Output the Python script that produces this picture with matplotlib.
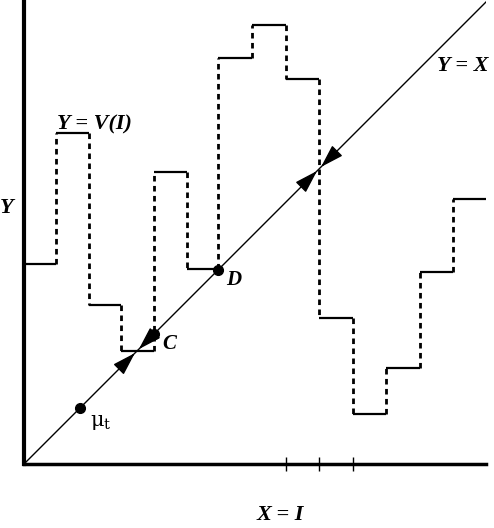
import numpy as np
import matplotlib
matplotlib.use('Agg')
import matplotlib.pyplot as plt

# step function Y = V(I): breakpoints and level of each step
edges = [0, 0.97, 1.97, 2.94, 3.94, 4.94, 5.88, 6.91, 7.94, 8.94, 9.97, 10.97, 12.0, 13.0, 14.0]
levels = [6.06, 10.03, 4.82, 3.42, 8.85, 5.91, 12.3, 13.3, 11.67, 4.42, 1.52, 2.91, 5.82, 8.03]

# marked points on Y = X
pt_names = ['$\\mathregular{\\mu_t}$', 'C', 'D']
pt_x = [1.7, 3.94, 5.88]

# x-axis ticks (no labels)
ticks = [7.94, 8.94, 9.97]

edges = np.array(edges)
levels = np.array(levels)

fig = plt.figure(figsize=(4.94, 5.28), dpi=100)
ax = fig.add_axes([24 / 494, 64 / 528, 462 / 494, 464 / 528])
ax.set_xlim(0, 14)
ax.set_ylim(0, 14.06)

for s in ['top', 'right']:
    ax.spines[s].set_visible(False)
ax.spines['left'].set_linewidth(3)
ax.spines['bottom'].set_linewidth(2.5)

ax.set_xticks(ticks)
ax.set_xticklabels([])
ax.set_yticks([])
ax.tick_params(axis='x', direction='inout', length=10, width=1)

# diagonal
ax.plot([0, 14], [0, 14], color='black', lw=1)

# steps
ax.hlines(levels, edges[:-1], edges[1:], color='black', lw=1.6)
ax.vlines(edges[1:-1], levels[:-1], levels[1:], color='black', lw=2,
          linestyles=(0, (2, 1.6)))

# points
for name, x in zip(pt_names, pt_x):
    ax.plot(x, x, 'o', color='black', ms=7, zorder=5)
ax.text(pt_x[0] + 0.3, pt_x[0] - 0.55, pt_names[0], fontsize=15, family='DejaVu Serif')
ax.text(pt_x[1] + 0.25, pt_x[1] - 0.45, pt_names[1], fontsize=15,
        family='Liberation Serif', weight='bold', style='italic')
ax.text(pt_x[2] + 0.25, pt_x[2] - 0.45, pt_names[2], fontsize=15,
        family='Liberation Serif', weight='bold', style='italic')

# arrows pointing to the stable crossings
crossings = [levels[3], edges[9]]
gap = 0.06
alen = 0.45
for c in crossings:
    for sgn in (-1, 1):
        tip = c + sgn * gap
        tail = tip + sgn * alen
        ax.annotate('', xy=(tip, tip), xytext=(tail, tail),
                    arrowprops=dict(arrowstyle='-|>,head_length=0.9,head_width=0.28',
                                    color='black', lw=1, mutation_scale=16,
                                    shrinkA=0, shrinkB=0))

lbl = dict(fontsize=16, family='Liberation Serif', weight='bold', style='italic')
ax.text(1.0, 10.15, 'Y = V(I)', **lbl)
ax.text(12.5, 11.9, 'Y = X', **lbl)
fig.text(7 / 494, 1 - 208 / 528, 'Y', ha='center', va='center', **lbl)
fig.text(280 / 494, 1 - 515 / 528, 'X = I', ha='center', va='center', **lbl)

fig.savefig('out.png', dpi=100)
